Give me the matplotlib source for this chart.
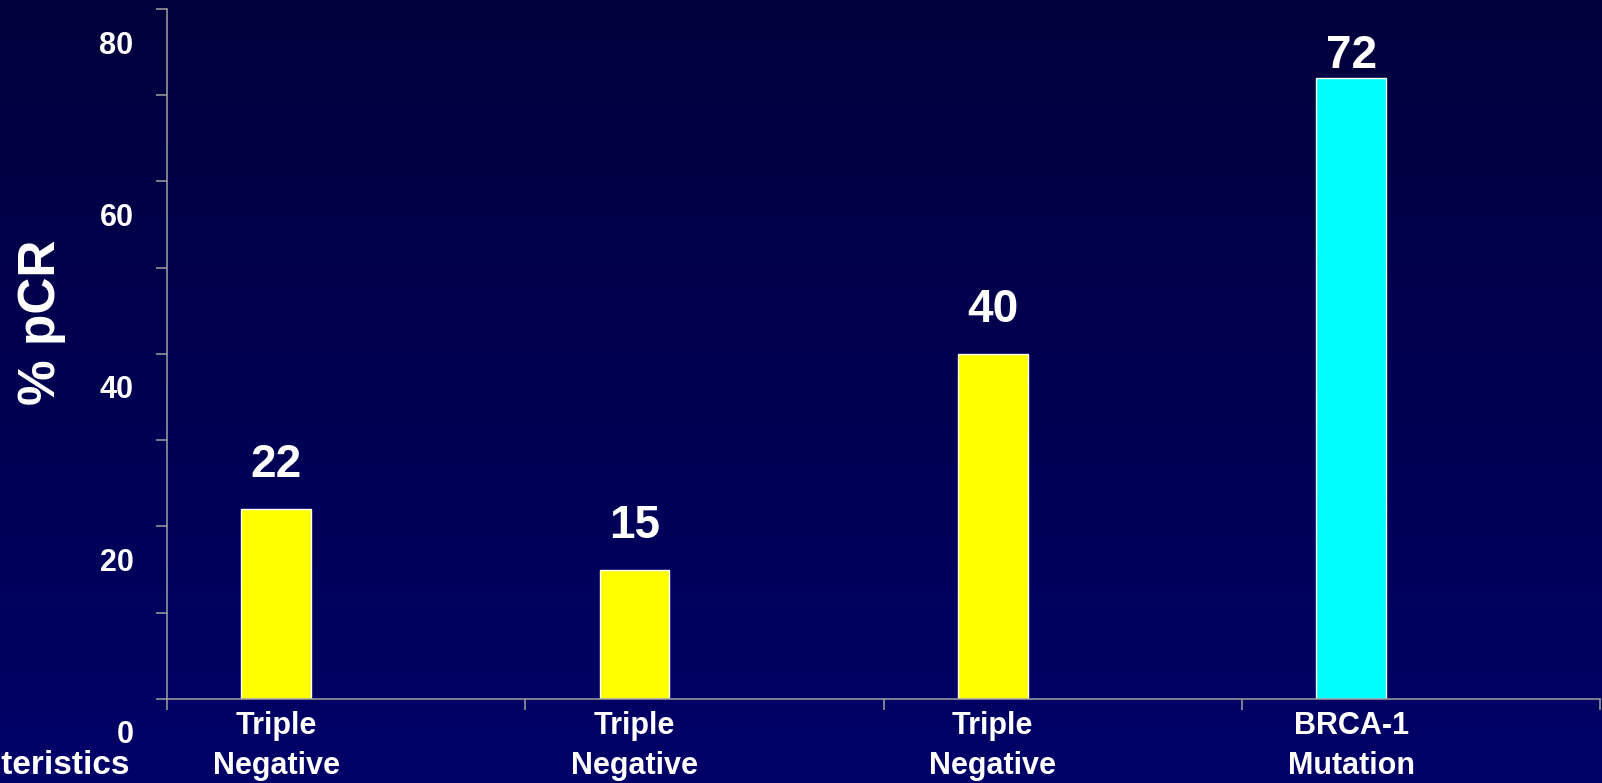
import numpy as np
import matplotlib
matplotlib.use("Agg")
import matplotlib.pyplot as plt
import matplotlib.transforms as mtransforms

plt.rcParams['font.family'] = ['Liberation Sans', 'DejaVu Sans']
plt.rcParams['font.weight'] = 'bold'

categories = ["Triple\nNegative", "Triple\nNegative", "Triple\nNegative", "BRCA-1\nMutation"]
pcr = [22, 15, 40, 72]
bar_colors = ["#ffff00", "#ffff00", "#ffff00", "#00ffff"]
y_labels = [0, 20, 40, 60, 80]

fig = plt.figure(figsize=(16.02, 7.83), dpi=100)

# navy background, darker at the top
bg = fig.add_axes([0, 0, 1, 1], zorder=-10)
grad = np.linspace(0, 1, 256).reshape(-1, 1)
top = np.array([0, 0, 0x3c]) / 255
bottom = np.array([0, 0, 0x68]) / 255
img = top + (bottom - top) * grad[..., None]
bg.imshow(img, aspect='auto', extent=[0, 1, 0, 1])
bg.axis('off')

ax = fig.add_axes([0.1042, 0.1073, 0.8946, 0.8812])
ax.patch.set_alpha(0)

x = np.arange(len(pcr)) + 0.305
width = 0.195
bars = ax.bar(x, pcr, width=width, color=bar_colors, edgecolor='white', linewidth=1.0)

# value above each bar, kept inside the top of the plot
for xi, v in zip(x, pcr):
    ax.text(xi, min(v + 5.1, 74.5), str(v), ha='center', va='center',
            color='white', fontsize=33, fontweight='bold')

ax.set_xlim(0, len(pcr))
ax.set_ylim(0, 80)

axis_grey = '#a0a0a0'
for side in ['top', 'right']:
    ax.spines[side].set_visible(False)
for side in ['left', 'bottom']:
    ax.spines[side].set_color(axis_grey)
    ax.spines[side].set_linewidth(1.1)

# y ticks every 10, labels only on the 20s, dropped a little below their marks
ax.set_yticks(np.arange(0, 81, 10), minor=True)
ax.set_yticks(y_labels)
ax.set_yticklabels([str(v) for v in y_labels])
ax.tick_params(axis='y', which='both', direction='out', length=8, width=1.1,
               color=axis_grey, labelcolor='white', labelsize=22, pad=16)
shift = mtransforms.ScaledTranslation(0, -33 / 100, fig.dpi_scale_trans)
for lab in ax.get_yticklabels():
    lab.set_transform(lab.get_transform() + shift)
    lab.set_fontweight('bold')

# category boundaries as tick marks, names under the bars
ax.set_xticks(np.arange(0, len(pcr) + 1), minor=True)
ax.set_xticks(x)
ax.set_xticklabels(categories, fontsize=22, fontweight='bold', color='white',
                   linespacing=1.4)
ax.tick_params(axis='x', which='major', length=0, pad=9)
ax.tick_params(axis='x', which='minor', direction='out', length=8, width=1.1,
               color=axis_grey)

fig.text(0.026, 0.589, "% pCR", rotation=90, ha='center', va='center',
         color='white', fontsize=37, fontweight='bold')
fig.text(0.081, 0.022, "Characteristics", ha='right', va='center',
         color='white', fontsize=24, fontweight='bold')

fig.savefig("out.png", dpi=100)
